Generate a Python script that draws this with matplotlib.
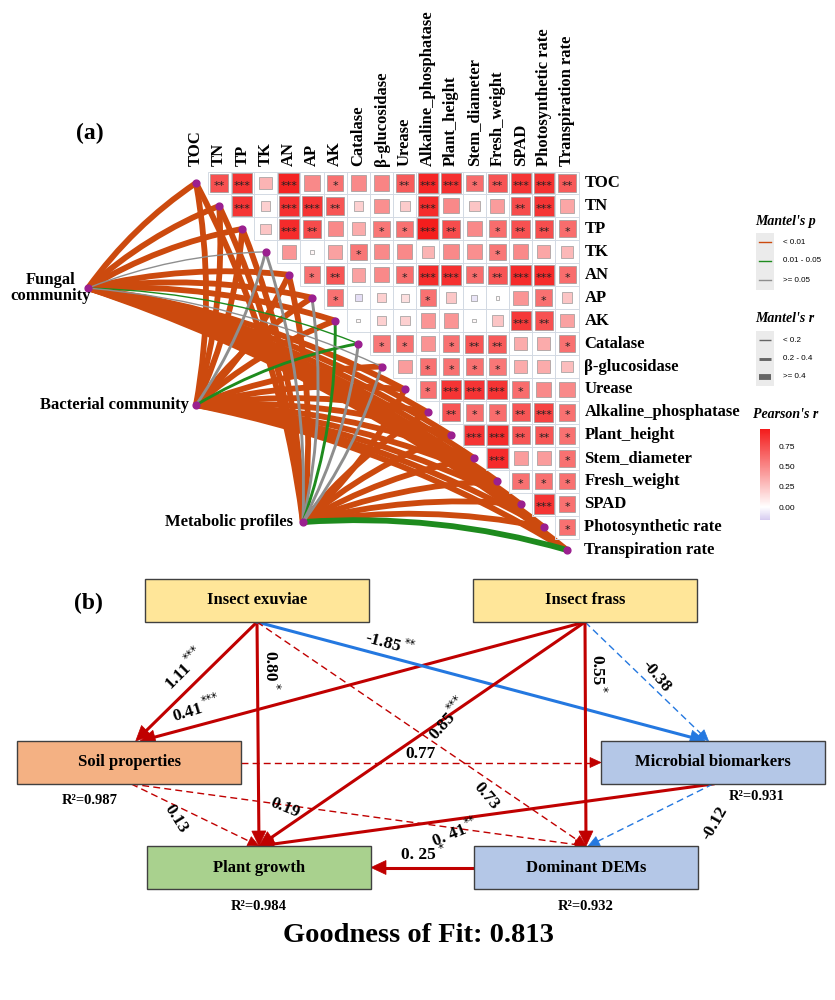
import numpy as np
import matplotlib
matplotlib.use("Agg")
import matplotlib.pyplot as plt
from matplotlib.colors import LinearSegmentedColormap, Normalize
from matplotlib.patches import Rectangle, PathPatch, Polygon
from matplotlib.path import Path
from matplotlib.cm import ScalarMappable
from matplotlib.textpath import TextPath
from matplotlib.font_manager import FontProperties

plt.rcParams['font.family'] = ['Liberation Serif', 'DejaVu Sans']

# ---------------- panel (a) data ----------------
variables = ["TOC", "TN", "TP", "TK", "AN", "AP", "AK", "Catalase", "β-glucosidase",
             "Urease", "Alkaline_phosphatase", "Plant_height", "Stem_diameter",
             "Fresh_weight", "SPAD", "Photosynthetic rate", "Transpiration rate"]

# Pearson's r, upper triangle, each row starts right of the diagonal
pearson_r = [
    [0.74, 0.86, 0.32, 0.93, 0.50, 0.60, 0.50, 0.52, 0.70, 0.92, 0.88, 0.62, 0.72, 0.86, 0.87, 0.70],
    [0.86, 0.20, 0.88, 0.86, 0.72, 0.20, 0.48, 0.22, 0.90, 0.50, 0.25, 0.42, 0.76, 0.86, 0.38],
    [0.25, 0.90, 0.76, 0.50, 0.36, 0.58, 0.60, 0.96, 0.76, 0.50, 0.62, 0.74, 0.75, 0.62],
    [0.45, 0.04, 0.40, 0.58, 0.50, 0.50, 0.32, 0.50, 0.48, 0.58, 0.50, 0.38, 0.30],
    [0.60, 0.72, 0.40, 0.50, 0.62, 0.90, 0.88, 0.62, 0.72, 0.90, 0.90, 0.62],
    [0.60, -0.10, 0.20, 0.14, 0.60, 0.24, -0.08, 0.03, 0.45, 0.60, 0.25],
    [0.03, 0.20, 0.20, 0.45, 0.45, 0.03, 0.25, 0.84, 0.74, 0.40],
    [0.58, 0.60, 0.46, 0.60, 0.72, 0.70, 0.36, 0.36, 0.60],
    [0.42, 0.60, 0.60, 0.60, 0.58, 0.36, 0.36, 0.28],
    [0.60, 0.86, 0.86, 0.86, 0.62, 0.50, 0.50],
    [0.72, 0.62, 0.62, 0.72, 0.80, 0.60],
    [0.86, 0.90, 0.72, 0.72, 0.60],
    [0.90, 0.42, 0.42, 0.60],
    [0.60, 0.60, 0.60],
    [0.86, 0.60],
    [0.60],
]
pearson_sig = [
    ["**", "***", "", "***", "", "*", "", "", "**", "***", "***", "*", "**", "***", "***", "**"],
    ["***", "", "***", "***", "**", "", "", "", "***", "", "", "", "**", "***", ""],
    ["", "***", "**", "", "", "*", "*", "***", "**", "", "*", "**", "**", "*"],
    ["", "", "", "*", "", "", "", "", "", "*", "", "", ""],
    ["*", "**", "", "", "*", "***", "***", "*", "**", "***", "***", "*"],
    ["*", "", "", "", "*", "", "", "", "", "*", ""],
    ["", "", "", "", "", "", "", "***", "**", ""],
    ["*", "*", "", "*", "**", "**", "", "", "*"],
    ["", "*", "*", "*", "*", "", "", ""],
    ["*", "***", "***", "***", "*", "", ""],
    ["**", "*", "*", "**", "***", "*"],
    ["***", "***", "**", "**", "*"],
    ["***", "", "", "*"],
    ["*", "*", "*"],
    ["***", "*"],
    ["*"],
]

sources = ["Fungal\ncommunity", "Bacterial community", "Metabolic profiles"]
mantel_r = [
    [0.58, 0.55, 0.57, 0.12, 0.60, 0.50, 0.52, 0.16, 0.10, 0.56, 0.61, 0.59, 0.57, 0.58, 0.60, 0.56, 0.54],
    [0.62, 0.60, 0.61, 0.28, 0.63, 0.55, 0.57, 0.30, 0.52, 0.60, 0.64, 0.62, 0.61, 0.62, 0.63, 0.60, 0.58],
    [0.66, 0.63, 0.64, 0.26, 0.67, 0.24, 0.30, 0.25, 0.27, 0.62, 0.68, 0.66, 0.65, 0.66, 0.67, 0.64, 0.45],
]
mantel_p = [
    [0.001, 0.001, 0.001, 0.21, 0.001, 0.004, 0.002, 0.03, 0.15, 0.001, 0.001, 0.001, 0.001, 0.001, 0.001, 0.001, 0.002],
    [0.001, 0.001, 0.001, 0.08, 0.001, 0.003, 0.002, 0.02, 0.004, 0.001, 0.001, 0.001, 0.001, 0.001, 0.001, 0.001, 0.001],
    [0.001, 0.001, 0.001, 0.07, 0.001, 0.09, 0.02, 0.11, 0.08, 0.001, 0.001, 0.001, 0.001, 0.001, 0.001, 0.001, 0.03],
]

# ---------------- panel (b) data ----------------
box_names = ["Insect exuviae", "Insect frass", "Soil properties",
             "Microbial biomarkers", "Plant growth", "Dominant DEMs"]
r2_values = {"Soil properties": 0.987, "Microbial biomarkers": 0.931,
             "Plant growth": 0.984, "Dominant DEMs": 0.932}
path_from = ["Insect exuviae", "Insect frass", "Insect exuviae", "Insect exuviae",
             "Insect exuviae", "Insect frass", "Insect frass", "Insect frass",
             "Soil properties", "Soil properties", "Soil properties",
             "Microbial biomarkers", "Microbial biomarkers", "Dominant DEMs"]
path_to = ["Soil properties", "Soil properties", "Plant growth", "Microbial biomarkers",
           "Dominant DEMs", "Microbial biomarkers", "Plant growth", "Dominant DEMs",
           "Microbial biomarkers", "Plant growth", "Dominant DEMs",
           "Plant growth", "Dominant DEMs", "Plant growth"]
path_coef = [1.11, 0.41, 0.80, -1.85, 0.73, -0.38, 0.85, 0.55, 0.77, 0.13, 0.19, 0.41, -0.12, 0.25]
path_text = ["1.11", "0.41", "0.80", "-1.85", "0.73", "-0.38", "0.85", "0.55",
             "0.77", "0.13", "0.19", "0. 41", "-0.12", "0. 25"]
path_sig = ["***", "***", "*", "**", "", "", "***", "*", "", "", "", "**", "", "*"]
goodness_of_fit = 0.813

# ---------------- layout ----------------
fig = plt.figure(figsize=(8.35, 10), dpi=100)
lay = fig.add_axes([0, 0, 1, 1])
lay.set_xlim(0, 835)
lay.set_ylim(1000, 0)
lay.axis('off')

sx, sy = 23.19, 22.94           # pixels per heatmap cell
ax = fig.add_axes([0, 0.425, 1, 0.575])
ax.set_xlim(-196 / sx, (835 - 196) / sx)
ax.set_ylim((575 - 183) / sy, -183 / sy)
ax.axis('off')

n = len(variables)
cmap = LinearSegmentedColormap.from_list(
    "pr", [(0, "#D6CBF0"), (0.16 / 1.13, "#FFFFFF"), (1, "#F41B1B")])
norm = Normalize(-0.16, 0.97)

# Mantel links (drawn first, under the nodes)
source_xy = [(-4.66, 4.58), (0.0, 9.68), (4.61, 14.78)]
orange, green, grey = "#CC4A0E", "#1E8B1E", "#8E8E8E"


def link_style(r, p):
    col = orange if p < 0.01 else (green if p < 0.05 else grey)
    lw = 1.0 if r < 0.2 else (2.1 if r < 0.4 else 4.2)
    return col, lw


links = []
for s, (rs, ps) in enumerate(zip(mantel_r, mantel_p)):
    for k in range(n):
        col, lw = link_style(rs[k], ps[k])
        links.append((lw, s, k, col))
links.sort(key=lambda t: -t[0])
for lw, s, k, col in links:
    p0 = np.array(source_xy[s])
    p1 = np.array([k, k], dtype=float)
    d = p1 - p0
    L = np.hypot(*d)
    nl = np.array([d[1], -d[0]]) / L
    if nl[0] - nl[1] < 0:
        nl = -nl
    c = (p0 + p1) / 2 + 0.09 * L * nl
    path = Path([p0, c, p1], [Path.MOVETO, Path.CURVE3, Path.CURVE3])
    ax.add_patch(PathPatch(path, fill=False, ec=col, lw=lw, capstyle='butt', zorder=2))

# heatmap cells
for i, (row, sig) in enumerate(zip(pearson_r, pearson_sig)):
    for k, (v, st) in enumerate(zip(row, sig)):
        j = i + 1 + k
        ax.add_patch(Rectangle((j - 0.5, i - 0.5), 1, 1, fill=False,
                               ec="#D3DAE3", lw=0.7, zorder=3))
        side = 0.93 * np.sqrt(abs(v))
        ax.add_patch(Rectangle((j - side / 2, i - side / 2), side, side,
                               fc=cmap(norm(v)), ec="#999999", lw=0.5, zorder=4))
        if st:
            ax.text(j, i + 0.13, st, ha='center', va='center', fontsize=8,
                    family='DejaVu Sans', color="#222222", zorder=5)

ax.scatter(np.arange(n), np.arange(n), s=24, c="#9B1F8F", zorder=6)
sxs, sys_ = zip(*source_xy)
ax.scatter(sxs, sys_, s=24, c="#9B1F8F", zorder=6)

for j, name in enumerate(variables):
    ax.text(j, -0.72, name, rotation=90, ha='center', va='bottom',
            fontsize=12, weight='bold')
    ax.text(16.75, j, name, ha='left', va='center', fontsize=12, weight='bold')

src_off = [(-27, 0), (-5, 0), (-7, 0)]
src_ha = ['center', 'right', 'right']
for name, xy, off, ha in zip(sources, source_xy, src_off, src_ha):
    ax.annotate(name, xy, xytext=off, textcoords='offset points', ha=ha,
                va='center', fontsize=12, weight='bold', linespacing=1.0, zorder=7)

lay.text(90, 133, "(a)", fontsize=17, weight='bold', ha='center', va='center')

# legends
lay.text(755, 221, "Mantel's p", fontsize=10, weight='bold', style='italic', va='center')
for k, (lab, col) in enumerate(zip(["< 0.01", "0.01 - 0.05", ">= 0.05"], [orange, green, grey])):
    y = 242 + 19 * k
    lay.add_patch(Rectangle((756, y - 9.5), 18, 19, fc="#EBEBEB", ec='none'))
    lay.plot([759, 771], [y, y], color=col, lw=1.0)
    lay.text(783, y, lab, fontsize=5.8, family='Liberation Sans', va='center')

lay.text(755, 318, "Mantel's r", fontsize=10, weight='bold', style='italic', va='center')
for k, (lab, lw) in enumerate(zip(["< 0.2", "0.2 - 0.4", ">= 0.4"], [1.0, 2.1, 4.2])):
    y = 340 + 18.5 * k
    lay.add_patch(Rectangle((756, y - 9.25), 18, 18.5, fc="#EBEBEB", ec='none'))
    lay.plot([759, 771], [y, y], color="#666666", lw=lw, solid_capstyle='butt')
    lay.text(783, y, lab, fontsize=5.8, family='Liberation Sans', va='center')

lay.text(753, 415, "Pearson's r", fontsize=10, weight='bold', style='italic', va='center')
cax = fig.add_axes([760 / 835, 1 - 520 / 1000, 10 / 835, 91 / 1000])
cb = fig.colorbar(ScalarMappable(norm=norm, cmap=cmap), cax=cax)
cb.outline.set_visible(False)
cb.set_ticks([0, 0.25, 0.5, 0.75])
cb.set_ticklabels(["0.00", "0.25", "0.50", "0.75"])
cb.ax.tick_params(length=2, color='white', labelsize=6, pad=4)
for t in cb.ax.get_yticklabels():
    t.set_family('Liberation Sans')

# ---------------- panel (b) ----------------
box_geom = {
    "Insect exuviae": (145, 579, '#FFE699'),
    "Insect frass": (473, 579, '#FFE699'),
    "Soil properties": (17, 741, '#F4B183'),
    "Microbial biomarkers": (601, 741, '#B4C7E7'),
    "Plant growth": (147, 846, '#A9D18E'),
    "Dominant DEMs": (474, 846, '#B4C7E7'),
}
bw, bh = 224, 43
for name in box_names:
    x0, y0, fc = box_geom[name]
    lay.add_patch(Rectangle((x0, y0), bw, bh, fc=fc, ec="#404040", lw=1.0, zorder=3))
    lay.text(x0 + bw / 2, y0 + bh / 2, name, ha='center', va='center',
             fontsize=12, weight='bold', zorder=4)

r2_pos = {"Soil properties": (90, 800), "Microbial biomarkers": (757, 797),
          "Plant growth": (259, 906), "Dominant DEMs": (586, 906)}
for name, v in r2_values.items():
    x, y = r2_pos[name]
    lay.text(x, y, f"R²={v:.3f}", ha='center', va='center', fontsize=10.5, weight='bold')


def port(name, side, frac=0.5):
    x0, y0, _ = box_geom[name]
    if side == 't':
        return np.array([x0 + frac * bw, y0])
    if side == 'b':
        return np.array([x0 + frac * bw, y0 + bh])
    if side == 'l':
        return np.array([x0, y0 + bh / 2])
    return np.array([x0 + bw, y0 + bh / 2])


src_ports = [('b', .5), ('b', .5), ('b', .5), ('b', .5), ('b', .5), ('b', .5), ('b', .5),
             ('b', .5), ('r', .5), ('b', .51), ('b', .51), ('b', .5), ('b', .5), ('l', .5)]
dst_ports = [('t', .53), ('t', .55), ('t', .5), ('t', .465), ('t', .5), ('t', .48), ('t', .5),
             ('t', .5), ('l', .5), ('t', .5), ('t', .5), ('t', .5), ('t', .51), ('r', .5)]
label_pos = [(184, 667, 45), (196, 708, 17), (271, 670, -90), (390, 643, -15),
             (488, 795, -50), (658, 675, -50), (447, 718, 48), (598, 673, -90),
             (421, 752, 0), (178, 818, -58), (286, 806, -22), (455, 832, 22),
             (713, 822, 60), (422, 853, 0)]

num_font = FontProperties(family='Liberation Serif', weight='bold', size=12.5)
star_font = FontProperties(family='DejaVu Sans', size=8.5)


def text_width_px(s, prop):
    return TextPath((0, 0), s, prop=prop).get_extents().width * 100 / 72


red, blue = "#C00000", "#2478E0"
for k in range(len(path_coef)):
    a = port(path_from[k], *src_ports[k])
    b = port(path_to[k], *dst_ports[k])
    col = red if path_coef[k] > 0 else blue
    solid = path_sig[k] != ""
    u = (b - a) / np.hypot(*(b - a))
    hl, hw = (15, 7) if solid else (11, 5)
    e = b - u * hl * 0.8
    lay.plot([a[0], e[0]], [a[1], e[1]], color=col, lw=2.2 if solid else 1.0,
             ls='-' if solid else (0, (5, 3)), zorder=2)
    perp = np.array([-u[1], u[0]])
    base = b - u * hl
    lay.add_patch(Polygon([b, base + perp * hw, base - perp * hw], closed=True,
                          fc=col, ec=col, lw=0.5, zorder=2))
    # coefficient label, stars as a small raised suffix
    x, y, rot = label_pos[k]
    th = np.deg2rad(rot)
    along = np.array([np.cos(th), -np.sin(th)])
    up = np.array([-np.sin(th), -np.cos(th)])
    c = np.array([x, y])
    if path_sig[k]:
        wn = text_width_px(path_text[k], num_font)
        ws = text_width_px(path_sig[k], star_font)
        j = c + along * (wn - ws) / 2
        lay.text(j[0], j[1], path_text[k], ha='right', va='center_baseline', rotation=rot,
                 rotation_mode='anchor', fontproperties=num_font, zorder=5)
        sp = j + up * 6 + along * 1.5
        lay.text(sp[0], sp[1], path_sig[k], ha='left', va='center_baseline', rotation=rot,
                 rotation_mode='anchor', fontproperties=star_font, zorder=5)
    else:
        lay.text(x, y, path_text[k], ha='center', va='center_baseline', rotation=rot,
                 rotation_mode='anchor', fontproperties=num_font, zorder=5)

lay.text(88, 603, "(b)", fontsize=17, weight='bold', ha='center', va='center')
lay.text(418, 935, f"Goodness of Fit: {goodness_of_fit:.3f}", ha='center', va='center',
         fontsize=20.5, weight='bold')

fig.savefig("out.png", dpi=100)
